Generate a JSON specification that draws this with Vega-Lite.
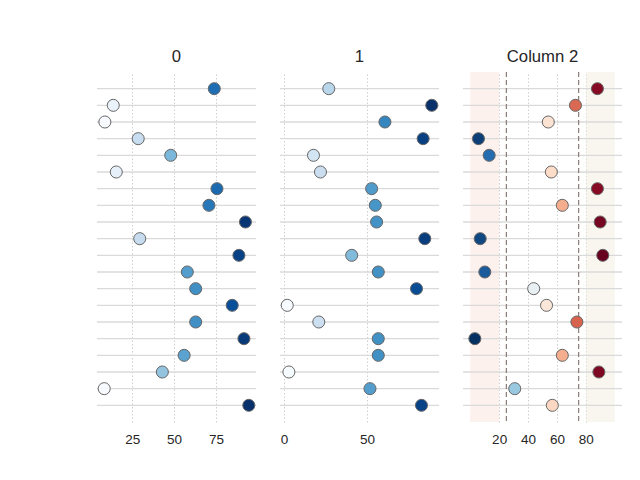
{
  "$schema": "https://vega.github.io/schema/vega-lite/v6.json",
  "padding": {"left": 96, "top": 48, "right": 0, "bottom": 0},
  "background": "white",
  "bounds": "flush",
  "spacing": 24,
  "datasets": {
    "dots": [
      {"row": 0, "c0": 74.0, "c1": 27.0, "c2": 88.0},
      {"row": 1, "c0": 13.7, "c1": 89.0, "c2": 72.8},
      {"row": 2, "c0": 8.7, "c1": 60.8, "c2": 54.0},
      {"row": 3, "c0": 28.6, "c1": 83.8, "c2": 5.7},
      {"row": 4, "c0": 48.0, "c1": 17.8, "c2": 13.1},
      {"row": 5, "c0": 15.5, "c1": 22.0, "c2": 56.1},
      {"row": 6, "c0": 75.6, "c1": 52.8, "c2": 88.0},
      {"row": 7, "c0": 70.8, "c1": 55.0, "c2": 63.7},
      {"row": 8, "c0": 92.6, "c1": 55.8, "c2": 89.9},
      {"row": 9, "c0": 29.5, "c1": 84.8, "c2": 6.9},
      {"row": 10, "c0": 88.7, "c1": 40.8, "c2": 91.7},
      {"row": 11, "c0": 57.9, "c1": 56.8, "c2": 10.1},
      {"row": 12, "c0": 62.9, "c1": 79.8, "c2": 43.9},
      {"row": 13, "c0": 84.7, "c1": 2.0, "c2": 52.8},
      {"row": 14, "c0": 62.9, "c1": 21.0, "c2": 73.8},
      {"row": 15, "c0": 91.7, "c1": 56.8, "c2": 3.2},
      {"row": 16, "c0": 56.0, "c1": 56.8, "c2": 63.7},
      {"row": 17, "c0": 43.0, "c1": 3.0, "c2": 89.0},
      {"row": 18, "c0": 8.3, "c1": 51.8, "c2": 30.8},
      {"row": 19, "c0": 94.6, "c1": 82.8, "c2": 56.8}
    ]
  },
  "config": {
    "view": {"stroke": null},
    "font": "Liberation Sans",
    "title": {"fontSize": 16.7, "fontWeight": "normal", "color": "#262626", "offset": 6, "baseline": "alphabetic", "font": "Liberation Sans"},
    "axisX": {
      "grid": true,
      "gridColor": "#cfcfcf",
      "gridDash": [1.5, 2],
      "gridWidth": 1,
      "domain": false,
      "ticks": false,
      "labelFontSize": 13.5,
      "labelColor": "#262626",
      "labelPadding": 10,
      "labelFont": "Liberation Sans",
      "title": null
    }
  },
  "resolve": {"scale": {"color": "independent", "x": "independent"}},
  "hconcat": [
    {
      "width": 159,
      "height": 350,
      "title": "0",
      "layer": [
        {
          "data": {"name": "dots"},
          "mark": {"type": "rule", "color": "#dadada", "strokeWidth": 1.3},
          "encoding": {"y": {"field": "row", "type": "ordinal", "scale": {"type": "point", "padding": 1}, "axis": null}}
        },
        {
          "data": {"name": "dots"},
          "mark": {"type": "point", "filled": true, "size": 145, "stroke": "#666666", "strokeWidth": 1, "opacity": 1},
          "encoding": {
            "y": {"field": "row", "type": "ordinal"},
            "x": {"field": "c0", "type": "quantitative", "scale": {"domain": [4.0, 98.9], "nice": false, "zero": false}, "axis": {"values": [25, 50, 75], "title": null}},
            "color": {
              "field": "c0", "type": "quantitative", "legend": null,
              "scale": {"type": "linear", "interpolate": "rgb",
                "domain": [8.3, 19.09, 29.88, 40.66, 51.45, 62.24, 73.03, 83.81, 94.6],
                "range": ["#f7fbff", "#deebf7", "#c6dbef", "#9ecae1", "#6baed6", "#4292c6", "#2171b5", "#08519c", "#08306b"]}
            }
          }
        }
      ]
    },
    {
      "width": 159,
      "height": 350,
      "title": "1",
      "layer": [
        {
          "data": {"name": "dots"},
          "mark": {"type": "rule", "color": "#dadada", "strokeWidth": 1.3},
          "encoding": {"y": {"field": "row", "type": "ordinal", "scale": {"type": "point", "padding": 1}, "axis": null}}
        },
        {
          "data": {"name": "dots"},
          "mark": {"type": "point", "filled": true, "size": 145, "stroke": "#666666", "strokeWidth": 1, "opacity": 1},
          "encoding": {
            "y": {"field": "row", "type": "ordinal"},
            "x": {"field": "c1", "type": "quantitative", "scale": {"domain": [-2.35, 93.35], "nice": false, "zero": false}, "axis": {"values": [0, 50], "title": null}},
            "color": {
              "field": "c1", "type": "quantitative", "legend": null,
              "scale": {"type": "linear", "interpolate": "rgb",
                "domain": [2, 12.875, 23.75, 34.625, 45.5, 56.375, 67.25, 78.125, 89],
                "range": ["#f7fbff", "#deebf7", "#c6dbef", "#9ecae1", "#6baed6", "#4292c6", "#2171b5", "#08519c", "#08306b"]}
            }
          }
        }
      ]
    },
    {
      "width": 159,
      "height": 350,
      "title": "Column 2",
      "layer": [
        {
          "data": {"values": [{"from": 0, "to": 20}]},
          "mark": {"type": "rect", "color": "#fbe3db", "opacity": 0.5},
          "encoding": {
            "x": {"field": "from", "type": "quantitative", "scale": {"domain": [-5, 105], "nice": false, "zero": false}, "axis": {"values": [20, 40, 60, 80], "title": null}},
            "x2": {"field": "to"}
          }
        },
        {
          "data": {"values": [{"from": 80, "to": 100}]},
          "mark": {"type": "rect", "color": "#f3ede0", "opacity": 0.5},
          "encoding": {
            "x": {"field": "from", "type": "quantitative"},
            "x2": {"field": "to"}
          }
        },
        {
          "data": {"name": "dots"},
          "mark": {"type": "rule", "color": "#dadada", "strokeWidth": 1.3},
          "encoding": {"y": {"field": "row", "type": "ordinal", "scale": {"type": "point", "padding": 1}, "axis": null}}
        },
        {
          "data": {"values": [{"v": 25}, {"v": 75}]},
          "mark": {"type": "rule", "color": "#8a7b76", "strokeWidth": 1.2, "strokeDash": [5, 3]},
          "encoding": {"x": {"field": "v", "type": "quantitative"}}
        },
        {
          "data": {"name": "dots"},
          "mark": {"type": "point", "filled": true, "size": 145, "stroke": "#666666", "strokeWidth": 1, "opacity": 1},
          "encoding": {
            "y": {"field": "row", "type": "ordinal"},
            "x": {"field": "c2", "type": "quantitative"},
            "color": {
              "field": "c2", "type": "quantitative", "legend": null,
              "scale": {"type": "linear", "interpolate": "rgb",
                "domain": [3.2, 12.05, 20.9, 29.75, 38.6, 47.45, 56.3, 65.15, 74.0, 82.85, 91.7],
                "range": ["#053061", "#2166ac", "#4393c3", "#92c5de", "#d1e5f0", "#f7f7f7", "#fddbc7", "#f4a582", "#d6604d", "#b2182b", "#67001f"]}
            }
          }
        }
      ]
    }
  ]
}
